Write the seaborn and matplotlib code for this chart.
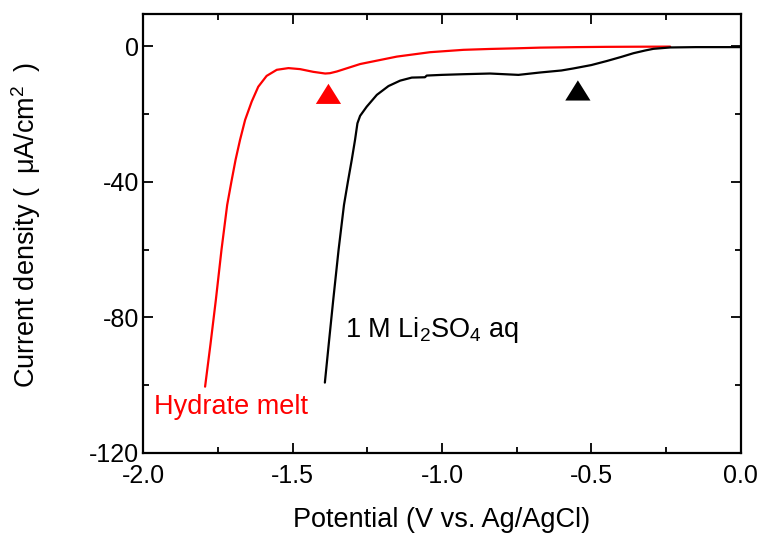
import numpy as np
import pandas as pd
import matplotlib
matplotlib.use("Agg")
import matplotlib.pyplot as plt
import seaborn as sns
from matplotlib.ticker import MultipleLocator

# Data
red_x = [-1.793, -1.775, -1.757, -1.738, -1.719, -1.705, -1.691, -1.676, -1.659,
         -1.637, -1.615, -1.587, -1.553, -1.514, -1.475, -1.431, -1.391, -1.375,
         -1.352, -1.313, -1.274, -1.263, -1.151, -1.040, -0.928, -0.839, -0.75,
         -0.672, -0.55, -0.45, -0.35, -0.236]
red_y = [-100.5, -88.0, -74.9, -60.0, -46.8, -40.0, -33.5, -27.6, -21.7,
         -16.3, -11.9, -8.7, -6.9, -6.4, -6.7, -7.5, -8.0, -7.9,
         -7.4, -6.3, -5.2, -5.0, -3.0, -1.7, -1.0, -0.74, -0.55,
         -0.35, -0.2, -0.12, -0.08, -0.05]

black_x = [-1.392, -1.378, -1.364, -1.346, -1.328, -1.315, -1.302, -1.291, -1.283,
           -1.274, -1.252, -1.218, -1.179, -1.140, -1.101, -1.057, -1.051, -1.001,
           -0.928, -0.839, -0.744, -0.672, -0.600, -0.560, -0.500, -0.448, -0.400,
           -0.359, -0.320, -0.292, -0.236, -0.15, 0.0]
black_y = [-99.3, -87.0, -74.9, -60.0, -46.8, -40.0, -33.5, -27.6, -22.7,
           -20.5, -17.8, -14.3, -11.7, -10.1, -9.2, -9.1, -8.6, -8.4,
           -8.2, -8.0, -8.4, -7.7, -7.1, -6.5, -5.5, -4.3, -3.1,
           -2.0, -1.2, -0.7, -0.3, -0.2, -0.2]

marker_x = [-1.380, -0.545]
marker_y = [-14.0, -13.0]
marker_series = ["Hydrate melt", "1 M Li2SO4 aq"]

xticks = [-2.0, -1.5, -1.0, -0.5, 0.0]
yticks = [0, -40, -80, -120]

sns.set_theme(style="ticks")
plt.rcParams['font.family'] = ['Liberation Sans', 'DejaVu Sans']
plt.rcParams['mathtext.fontset'] = 'custom'
plt.rcParams['mathtext.rm'] = 'Liberation Sans'
plt.rcParams['mathtext.it'] = 'Liberation Sans'
plt.rcParams['text.color'] = 'black'
plt.rcParams['axes.labelcolor'] = 'black'

fig = plt.figure(figsize=(7.62, 5.33), dpi=100)
ax = fig.add_axes([0.188, 0.1507, 0.784, 0.8225])

red_df = pd.DataFrame({"x": red_x, "y": red_y})
black_df = pd.DataFrame({"x": black_x, "y": black_y})
sns.lineplot(data=red_df, x="x", y="y", color="#ff0000", lw=1.6, sort=False, ax=ax)
sns.lineplot(data=black_df, x="x", y="y", color="black", lw=1.6, sort=False, ax=ax)

tri = [(-1, -0.8), (1, -0.8), (0, 0.8), (-1, -0.8)]
mdf = pd.DataFrame({"x": marker_x, "y": marker_y, "s": marker_series})
sns.scatterplot(data=mdf, x="x", y="y", hue="s",
                palette={"Hydrate melt": "#ff0000", "1 M Li2SO4 aq": "black"},
                marker=tri, s=330, linewidth=0, legend=False, ax=ax)

ax.text(-1.325, -85.8, r"1 M Li$_2$SO$_4$ aq", fontsize=19.5, color="black",
        va="baseline", ha="left")
ax.text(-1.965, -108.7, "Hydrate melt", fontsize=19.5, color="#ff0000",
        va="baseline", ha="left")

ax.set_xlim(-2.0, 0.0)
ax.set_ylim(-120, 9.5)
ax.set_xticks(xticks)
ax.set_yticks(yticks)
ax.set_xticklabels([f"{v:.1f}" for v in xticks])
ax.set_yticklabels([f"{v:d}" for v in yticks])
ax.xaxis.set_minor_locator(MultipleLocator(0.25))
ax.yaxis.set_minor_locator(MultipleLocator(20))
ax.tick_params(which="both", direction="in", top=True, right=True,
               width=1.3, labelsize=18, colors="black")
ax.tick_params(which="major", length=7)
ax.tick_params(axis="x", which="major", pad=8)
ax.tick_params(axis="y", which="major", pad=3)
ax.tick_params(which="minor", length=4)
for s in ax.spines.values():
    s.set_linewidth(1.6)
    s.set_color("black")

ax.set_xlabel("Potential (V vs. Ag/AgCl)", fontsize=19.5, labelpad=14, color="black")
ax.set_ylabel("Current density (\u2002μA/cm$^2$\u2002)", fontsize=19.5, color="black")
ax.yaxis.set_label_coords(-0.168, 0.52)

fig.savefig("out.png", dpi=100)
